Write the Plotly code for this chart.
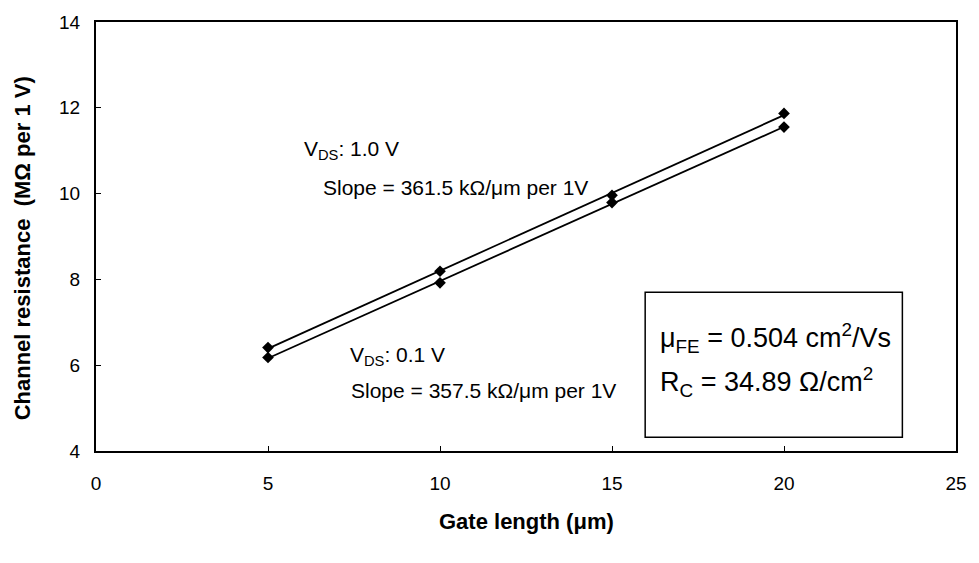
import numpy as np
import plotly.graph_objects as go

# Gate length (um) and channel resistance (MOhm per 1 V) for two drain biases
gate_length = [5, 10, 15, 20]
r_vds_1v0 = [6.41, 8.19, 9.96, 11.87]
r_vds_0v1 = [6.18, 7.92, 9.79, 11.55]

x_ticks = [0, 5, 10, 15, 20, 25]
y_ticks = [4, 6, 8, 10, 12, 14]

FONT = "Arial, Liberation Sans, sans-serif"

fig = go.Figure()

for ys in (r_vds_1v0, r_vds_0v1):
    # linear trend line through the measured points
    k, b = np.polyfit(gate_length, ys, 1)
    xf = np.array([gate_length[0], gate_length[-1]])
    fig.add_trace(go.Scatter(x=xf, y=k * xf + b, mode="lines",
                             line=dict(color="black", width=1.8),
                             showlegend=False, hoverinfo="skip"))
    fig.add_trace(go.Scatter(x=gate_length, y=ys, mode="markers",
                             marker=dict(symbol="diamond", size=9, color="black"),
                             showlegend=False))

axis_common = dict(showline=True, linecolor="black", linewidth=2, mirror=True,
                   ticks="inside", ticklen=5, tickwidth=1.2, tickcolor="black",
                   showgrid=False, zeroline=False,
                   tickfont=dict(family=FONT, size=19, color="black"))

fig.update_xaxes(range=[0, 25], tickvals=x_ticks, ticklabelstandoff=14, **axis_common)
fig.update_yaxes(range=[4, 14], tickvals=y_ticks, ticklabelstandoff=10, **axis_common)

ann = []
def txt(x, y, s, size=15, bold=False, angle=0, xanchor="left"):
    ann.append(dict(x=x, y=y, xref="paper", yref="paper", text=s, showarrow=False,
                    xanchor=xanchor, yanchor="middle", textangle=angle,
                    font=dict(family=FONT, size=size, color="black")))

W, H = 979, 563
L, R, T, B = 96, 962, 16, 451
def px(xp): return (xp - L) / (R - L)
def py(yp): return (B - yp) / (B - T)

txt(px(303), py(146), "V<sub>DS</sub>: 1.0 V", size=21)
txt(px(323), py(184), "Slope = 361.5 kΩ/μm per 1V", size=21)
txt(px(350), py(355), "V<sub>DS</sub>: 0.1 V", size=21)
txt(px(351), py(390), "Slope = 357.5 kΩ/μm per 1V", size=21)
txt(px(662), py(336), "μ<sub>FE</sub> = 0.504 cm<sup>2</sup>/Vs", size=27)
txt(px(662), py(381), "R<sub>C</sub> = 34.89 Ω/cm<sup>2</sup>", size=27)

# axis titles
ann.append(dict(x=px(529), y=py(522), xref="paper", yref="paper",
                text="<b>Gate length (μm)</b>", showarrow=False,
                xanchor="center", yanchor="middle",
                font=dict(family=FONT, size=22, color="black")))
ann.append(dict(x=px(22), y=py(246), xref="paper", yref="paper",
                text="<b>Channel resistance  (MΩ per 1 V)</b>", showarrow=False,
                xanchor="center", yanchor="middle", textangle=-90,
                font=dict(family=FONT, size=22, color="black")))

fig.update_layout(
    width=W, height=H,
    margin=dict(l=L, r=W - R, t=T, b=H - B),
    plot_bgcolor="white", paper_bgcolor="white",
    annotations=ann,
    shapes=[dict(type="rect", xref="paper", yref="paper",
                 x0=px(649), x1=px(908), y0=py(437), y1=py(290),
                 line=dict(color="black", width=1.5), fillcolor="rgba(0,0,0,0)")],
)

fig.write_html("out.html")
